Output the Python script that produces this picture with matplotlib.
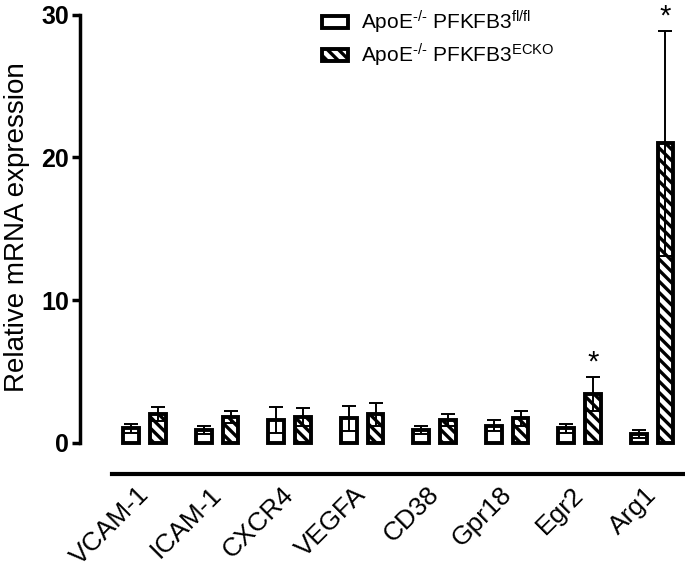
import matplotlib.pyplot as plt
import matplotlib.transforms as mtransforms
import numpy as np
from matplotlib.patches import Patch

plt.rcParams['font.family'] = ['Liberation Sans', 'DejaVu Sans']
plt.rcParams['mathtext.fontset'] = 'custom'
plt.rcParams['mathtext.rm'] = 'Liberation Sans'
plt.rcParams['mathtext.it'] = 'Liberation Sans'
plt.rcParams['hatch.linewidth'] = 2.4

genes = ['VCAM-1', 'ICAM-1', 'CXCR4', 'VEGFA', 'CD38', 'Gpr18', 'Egr2', 'Arg1']
flfl_mean = [1.0, 0.9, 1.6, 1.7, 0.9, 1.2, 1.0, 0.6]
flfl_err = [0.3, 0.3, 0.9, 0.9, 0.3, 0.4, 0.3, 0.3]
ecko_mean = [2.0, 1.8, 1.8, 2.0, 1.6, 1.7, 3.4, 21.0]
ecko_err = [0.5, 0.4, 0.6, 0.8, 0.4, 0.5, 1.2, 7.9]
stars = ['', '', '', '', '', '', '*', '*']

x = np.arange(len(genes))
off = 0.186
w = 0.22

fig = plt.figure(figsize=(6.85, 5.76), dpi=100)
ax = fig.add_axes([0.1168, 0.177, 0.8832, 0.8095])

ax.bar(x - off, flfl_mean, w, color='white', edgecolor='black', linewidth=2.8, zorder=2)
ax.bar(x + off, ecko_mean, w, color='white', edgecolor='black', linewidth=2.8,
       hatch='\\\\\\', zorder=2)
ax.errorbar(x - off, flfl_mean, yerr=flfl_err, fmt='none', ecolor='black',
            elinewidth=1.4, capsize=5, capthick=1.4, zorder=3)
ax.errorbar(x + off, ecko_mean, yerr=ecko_err, fmt='none', ecolor='black',
            elinewidth=1.4, capsize=5, capthick=1.4, zorder=3)

for xi, m, e, s in zip(x, ecko_mean, ecko_err, stars):
    if s:
        ax.text(xi + off, m + e + 1.0, s, ha='center', va='center', fontsize=21)

ax.set_xlim(-0.89, 7.455)
ax.set_ylim(-2.2, 30.5)
ax.spines['top'].set_visible(False)
ax.spines['right'].set_visible(False)
ax.spines['left'].set_linewidth(2.5)
ax.spines['left'].set_bounds(0, 30)
ax.spines['bottom'].set_linewidth(3)
ax.spines['bottom'].set_bounds(-0.45, 7.455)

ax.set_yticks([0, 10, 20, 30])
ax.set_yticklabels(['0', '10', '20', '30'], fontsize=18, fontweight='bold')
ax.tick_params(axis='y', length=6, width=2.5, pad=2)
ax.set_xticks(x)
ax.set_xticklabels(genes, fontsize=19, rotation=45, ha='right', rotation_mode='anchor')
ax.tick_params(axis='x', length=0, pad=6)
shift = mtransforms.ScaledTranslation(-8 / 100, 0, fig.dpi_scale_trans)
for lbl in ax.get_xticklabels():
    lbl.set_transform(lbl.get_transform() + shift)

ax.set_ylabel('Relative mRNA expression', fontsize=20)
ax.yaxis.set_label_coords(-0.083, 0.53)

handles = [Patch(facecolor='white', edgecolor='black', linewidth=2.8),
           Patch(facecolor='white', edgecolor='black', linewidth=2.8, hatch='\\\\\\')]
labels = ['ApoE$^{\\text{-/-}}$ PFKFB3$^{\\text{fl/fl}}$',
          'ApoE$^{\\text{-/-}}$ PFKFB3$^{\\text{ECKO}}$']
ax.legend(handles, labels, loc='upper left', bbox_to_anchor=(0.369, 1.038), frameon=False,
          fontsize=15, handlelength=1.25, handleheight=0.55, labelspacing=0.27,
          handletextpad=0.6)

fig.savefig('out.png', dpi=100)
